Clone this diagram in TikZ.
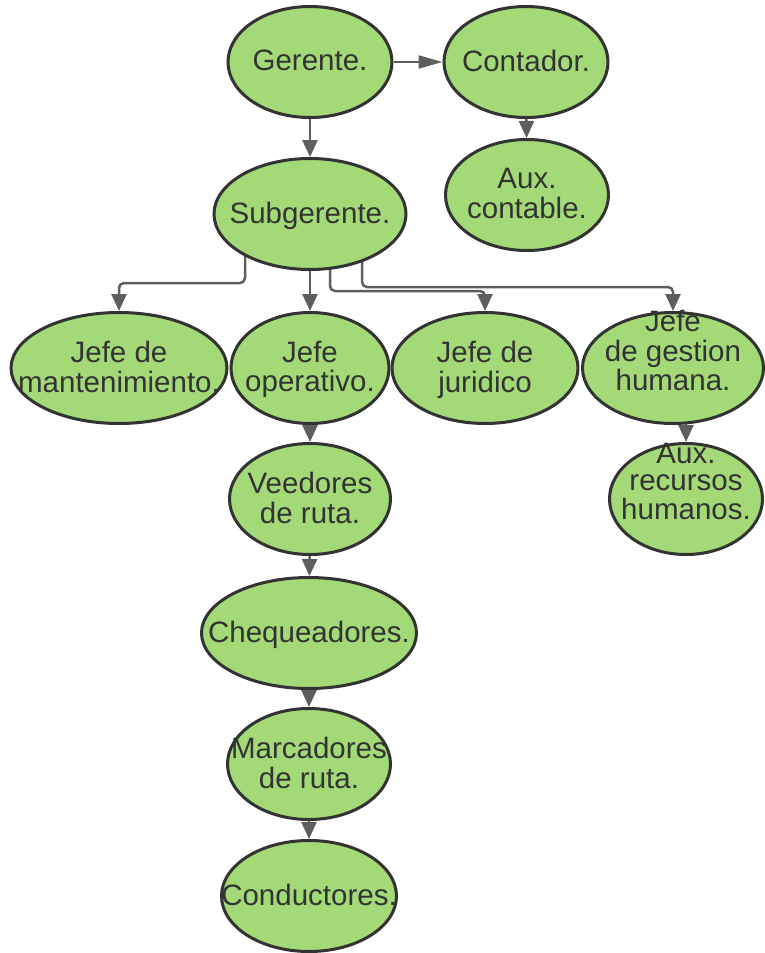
\documentclass[tikz,border=0pt]{standalone}
\usepackage{fontspec}
\setmainfont{Liberation Sans}
\usepackage{tikz}
\usetikzlibrary{
	shapes.geometric,
	positioning,
	arrows.meta
}
\definecolor{leaf}{HTML}{A3D977}
\definecolor{ink}{HTML}{333333}
\definecolor{wire}{HTML}{5E5E5E}
\pgfdeclarelayer{back}
\pgfsetlayers{back,main}
% centred label that does not widen the ellipse
\newcommand{\txt}[2][0pt]{\makebox[0pt]{\raisebox{\dimexpr#1-0.3em\relax}[0pt][0pt]{\begin{tabular}{@{}c@{}}#2\end{tabular}}}}
\tikzset{
	post/.style={ellipse,draw=ink,line width=3pt,fill=leaf,text=ink,inner sep=0pt,
		minimum height=111pt,font=\fontsize{29.5}{27}\selectfont},
	link/.style={draw=wire,line width=2.5pt,rounded corners=5pt,
		-{Triangle[length=17pt,width=15pt]}},
	flat/.style={line width=2pt,-{Triangle[length=24pt,width=13pt]}}
}

\begin{document}
\begin{tikzpicture}[x=1pt,y=-1pt]
	\useasboundingbox (0,0) rectangle (764,953);

	\node[post,minimum width=164pt] (ger)   at (310,62)  {\txt{Gerente.}};
	\node[post,minimum width=164pt] (cont)  at (526,62)  {\txt{Contador.}};
	\node[post,minimum width=163pt] (auxc)  at (527,195) {\txt{Aux.\\contable.}};
	\node[post,minimum width=192pt] (sub)   at (310,214) {\txt{Subgerente.}};
	\node[post,minimum width=216pt] (mant)  at (119,368) {\txt{Jefe de\\mantenimiento.}};
	\node[post,minimum width=158pt] (op)    at (310,368) {\txt{Jefe\\operativo.}};
	\node[post,minimum width=186pt] (jur)   at (485,368) {\txt{Jefe de\\juridico}};
	\node[post,minimum width=181pt] (gh)    at (673,368) {\txt[16pt]{Jefe\\de gestion\\humana.}};
	\node[post,minimum width=153pt] (auxrh) at (686,499) {\txt[16pt]{Aux.\\recursos\\humanos.}};
	\node[post,minimum width=161pt] (ved)   at (310,499) {\txt{Veedores\\de ruta.}};
	\node[post,minimum width=215pt] (cheq)  at (309,633) {\txt{Chequeadores.}};
	\node[post,minimum width=163pt] (marc)  at (309,764) {\txt{Marcadores\\de ruta.}};
	\node[post,minimum width=175pt] (cond)  at (309,896) {\txt{Conductores.}};

	\begin{pgfonlayer}{back}
		\draw[link,flat] (ger) -- (cont);
		\draw[link] (ger) -- (sub);
		\draw[link] (cont) -- (auxc);
		\draw[link] ([xshift=-65pt]sub.center) |- ([yshift=28pt]mant.north) -- (mant.north);
		\draw[link] (sub) -- (op);
		\draw[link] ([xshift=20pt]sub.center) |- ([yshift=20pt]jur.north) -- (jur.north);
		\draw[link] ([xshift=52pt]sub.center) |- ([yshift=24pt]gh.north) -- (gh.north);
		\draw[link] (auxrh.north |- gh.center) -- (auxrh.north);
		\draw[link] (op) -- (ved);
		\draw[link] (ved) -- (cheq);
		\draw[link] (cheq) -- (marc);
		\draw[link] (marc) -- (cond);
	\end{pgfonlayer}
\end{tikzpicture}
\end{document}
